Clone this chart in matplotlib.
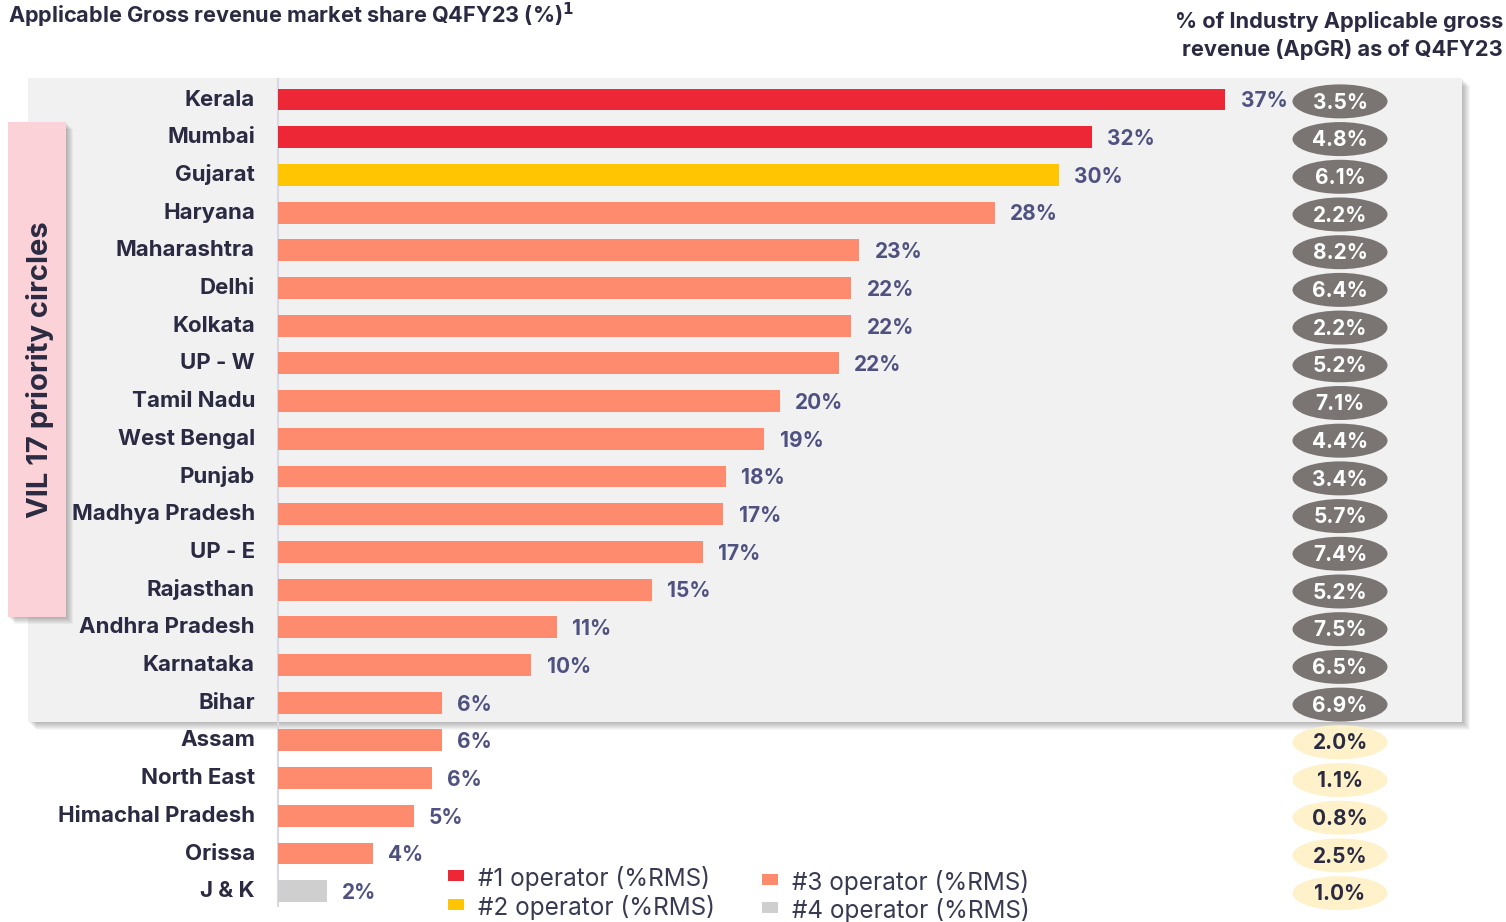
import matplotlib.pyplot as plt
from matplotlib.patches import Rectangle, Ellipse

plt.rcParams['font.family'] = ['Inter', 'DejaVu Sans']

# circles and market share (%RMS), top to bottom
circles = ['Kerala', 'Mumbai', 'Gujarat', 'Haryana', 'Maharashtra', 'Delhi', 'Kolkata',
           'UP - W', 'Tamil Nadu', 'West Bengal', 'Punjab', 'Madhya Pradesh', 'UP - E',
           'Rajasthan', 'Andhra Pradesh', 'Karnataka', 'Bihar', 'Assam', 'North East',
           'Himachal Pradesh', 'Orissa', 'J & K']
share = [37.0, 31.8, 30.5, 28.0, 22.7, 22.4, 22.4, 21.9, 19.6, 19.0, 17.5, 17.4, 16.6,
         14.6, 10.9, 9.9, 6.4, 6.4, 6.0, 5.3, 3.7, 1.9]
share_labels = ['37%', '32%', '30%', '28%', '23%', '22%', '22%', '22%', '20%', '19%',
                '18%', '17%', '17%', '15%', '11%', '10%', '6%', '6%', '6%', '5%', '4%', '2%']
rank = [1, 1, 2, 3, 3, 3, 3, 3, 3, 3, 3, 3, 3, 3, 3, 3, 3, 3, 3, 3, 3, 4]
apgr = ['3.5%', '4.8%', '6.1%', '2.2%', '8.2%', '6.4%', '2.2%', '5.2%', '7.1%', '4.4%',
        '3.4%', '5.7%', '7.4%', '5.2%', '7.5%', '6.5%', '6.9%', '2.0%', '1.1%', '0.8%',
        '2.5%', '1.0%']
n_priority = 17

rank_colors = {1: '#ee2737', 2: '#ffc600', 3: '#ff8b6e', 4: '#cfcfcf'}
legend_labels = ['#1 operator (%RMS)', '#2 operator (%RMS)', '#3 operator (%RMS)', '#4 operator (%RMS)']

W, H = 1506, 922
navy = '#2a2b42'
slate = '#4f5280'

fig = plt.figure(figsize=(W / 100, H / 100), dpi=100)
ax = fig.add_axes([0, 0, 1, 1])
ax.patch.set_visible(False)
ax.axis('off')

# map data to pixels: 0% at x=278, 25.6 px per %; row 0 at y=99, 37.7 px per row
x0, kx = 278, 25.6
y0, ky = 99.5, 37.7
ax.set_xlim(-x0 / kx, (W - x0) / kx)
ax.set_ylim((H - y0) / ky, -y0 / ky)


def fig_rect(x, y, w, h, **kw):
    r = Rectangle((x / W, 1 - (y + h) / H), w / W, h / H, transform=fig.transFigure, **kw)
    ax.add_patch(r)


# grey panel for priority circles, with soft shadow
for k in range(8, 0, -1):
    fig_rect(28 + k, 78 + k, 1434, 644, facecolor='#000000', alpha=0.035, lw=0, zorder=0)
fig_rect(28, 78, 1434, 644, facecolor='#f1f1f1', lw=0, zorder=0.5)

# pink side box
for k in range(7, 0, -1):
    fig_rect(8 + k, 122 + k, 58, 495, facecolor='#000000', alpha=0.04, lw=0, zorder=1)
fig_rect(8, 122, 58, 495, facecolor='#fbd2d7', lw=0, zorder=1.5)
fig.text(40 / W, 1 - 370 / H, 'VIL 17 priority circles', rotation=90, ha='center',
         va='center', fontsize=21, fontweight='bold', color=navy)

# axis line
ax.plot([0, 0], [-0.55, 21.4], color='#d9d9e6', lw=1.5, zorder=2)

rows = list(range(len(circles)))
colors = [rank_colors[r] for r in rank]
ax.barh(rows, share, height=0.58, color=colors, zorder=3)

for i, (v, lab, name, g) in enumerate(zip(share, share_labels, circles, apgr)):
    ax.text(-0.9, i, name, ha='right', va='center', fontsize=16, fontweight='bold', color=navy)
    ax.text(v + 0.6, i + 0.05, lab, ha='left', va='center', fontsize=15, fontweight='bold',
            color=slate, zorder=4)
    if i < n_priority:
        fc, tc = '#7a7573', 'white'
    else:
        fc, tc = '#fff1c9', navy
    ax.add_patch(Ellipse(((1340 - x0) / kx, i + 0.05), 95 / kx, 34 / ky, facecolor=fc,
                         lw=0, zorder=4))
    ax.text((1340 - x0) / kx, i + 0.08, g, ha='center', va='center', fontsize=15,
            fontweight='bold', color=tc, zorder=5)

# titles
fig.text(8 / W, 1 - 15 / H, 'Applicable Gross revenue market share Q4FY23 (%)$^{\\mathbf{1}}$',
         ha='left', va='center', fontsize=15.6, fontweight='bold', color=navy)
fig.text(1503 / W, 1 - 22 / H, '% of Industry Applicable gross', ha='right', va='center',
         fontsize=15.7, fontweight='bold', color=navy)
fig.text(1503 / W, 1 - 50 / H, 'revenue (ApGR) as of Q4FY23', ha='right', va='center',
         fontsize=15.7, fontweight='bold', color=navy)

# legend
leg_pos = [(456, 876), (456, 905), (770, 880), (770, 908)]
for (lx, ly), lab, c in zip(leg_pos, legend_labels, [rank_colors[k] for k in (1, 2, 3, 4)]):
    fig_rect(lx - 8, ly - 6, 16, 11, facecolor=c, lw=0, zorder=3)
    fig.text((lx + 22) / W, 1 - (ly + 2) / H, lab, ha='left', va='center', fontsize=17.5,
             color='#383a52')

fig.savefig('out.png', dpi=100)
